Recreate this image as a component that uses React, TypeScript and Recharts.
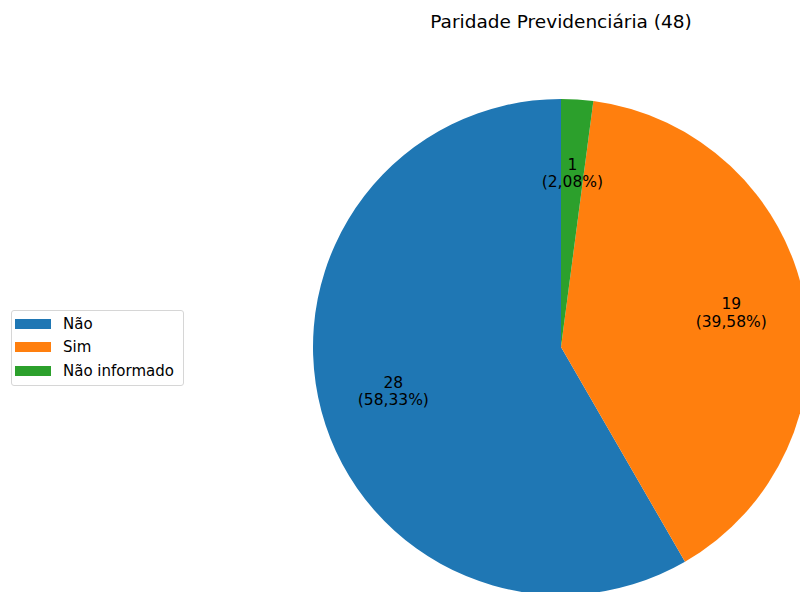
import { PieChart, Pie, Cell, Legend } from 'recharts';

const categories = ['Não', 'Sim', 'Não informado'];
const counts = [28, 19, 1];
const colors = ['#1f77b4', '#ff7f0e', '#2ca02c'];
const total = counts.reduce((a, b) => a + b, 0);

const data = categories.map((name, i) => ({ name, value: counts[i] }));

const FONT = '"DejaVu Sans", sans-serif';
const RAD = Math.PI / 180;

function renderLabel(props: any) {
  const { cx, cy, midAngle, outerRadius, value } = props;
  const r = outerRadius * 0.7;
  const x = cx + r * Math.cos(-midAngle * RAD);
  const y = cy + r * Math.sin(-midAngle * RAD);
  const pct = ((value / total) * 100).toFixed(2).replace('.', ',');
  return (
    <text x={x} y={y} textAnchor="middle" fill="#000" fontFamily={FONT} fontSize={15.5}>
      <tspan x={x} dy={-4}>{value}</tspan>
      <tspan x={x} dy={17.5}>({pct}%)</tspan>
    </text>
  );
}

function LegendBox() {
  return (
    <div
      style={{
        boxSizing: 'border-box',
        border: '1px solid #d6d6d6',
        borderRadius: 3,
        background: '#fff',
        padding: '1px 4px 2px 3px',
        fontFamily: FONT,
        fontSize: 15,
        color: '#000',
        width: 173,
        whiteSpace: 'nowrap',
      }}
    >
      {categories.map((c, i) => (
        <div key={c} style={{ display: 'flex', alignItems: 'center', height: 23.5 }}>
          <span style={{ width: 36, height: 10, background: colors[i], marginRight: 12, flexShrink: 0 }} />
          <span>{c}</span>
        </div>
      ))}
    </div>
  );
}

export default function App() {
  return (
    <div style={{ position: 'fixed', top: 0, left: 0, width: 800, height: 592, background: '#fff' }}>
      <PieChart width={800} height={592} margin={{ top: 0, right: 0, bottom: 0, left: 0 }}>
        <text x={561} y={28} textAnchor="middle" fontFamily={FONT} fontSize={18.5} fill="#000">
          Paridade Previdenciária (48)
        </text>
        <Pie
          data={data}
          dataKey="value"
          nameKey="name"
          cx={561}
          cy={347}
          outerRadius={248}
          startAngle={90}
          endAngle={450}
          stroke="none"
          label={renderLabel}
          labelLine={false}
          isAnimationActive={false}
        >
          {data.map((d, i) => (
            <Cell key={d.name} fill={colors[i]} />
          ))}
        </Pie>
        <Legend
          content={() => <LegendBox />}
          wrapperStyle={{ position: 'absolute', left: 11, top: 310, width: 'auto' }}
        />
      </PieChart>
    </div>
  );
}
